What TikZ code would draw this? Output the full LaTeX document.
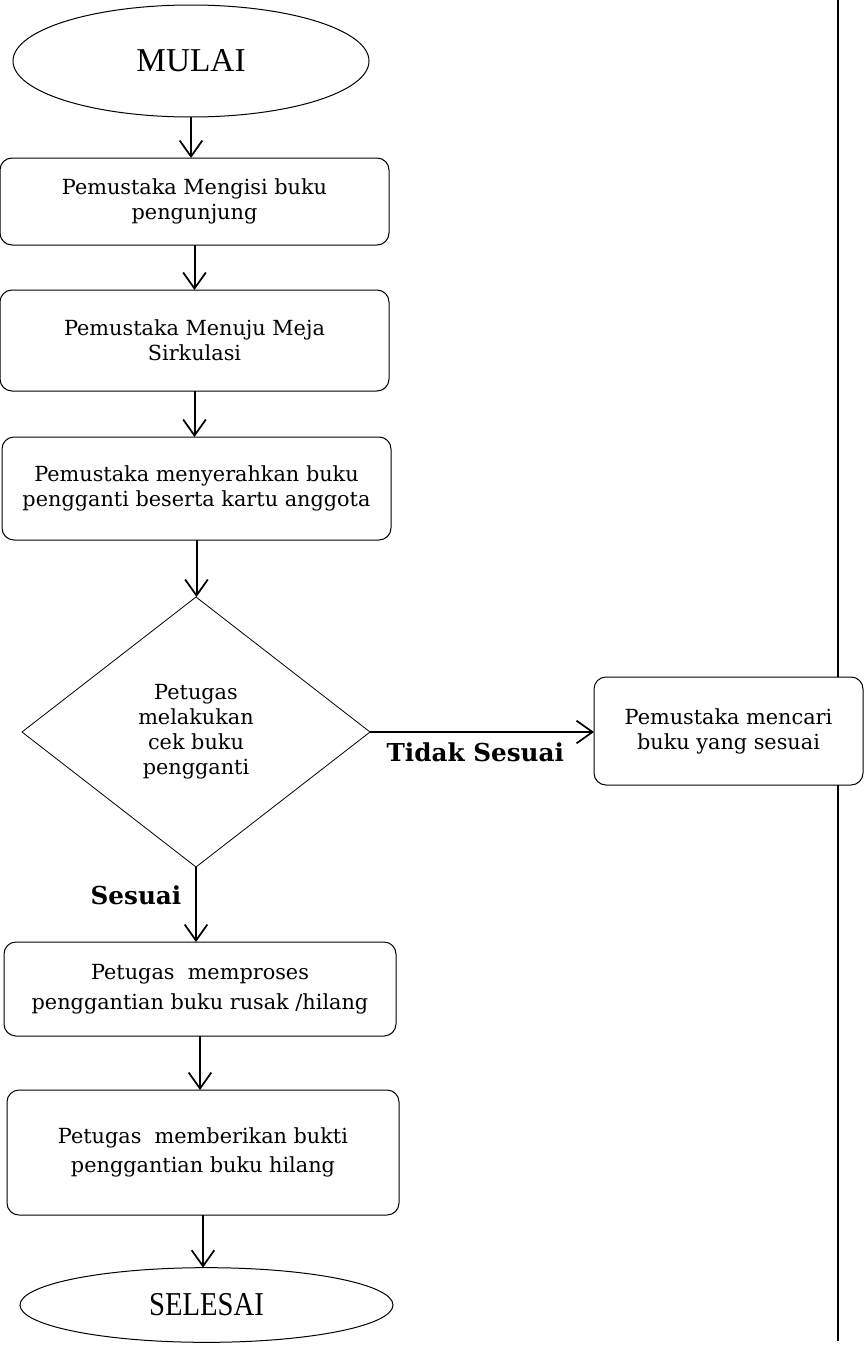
\documentclass[tikz,border=0pt]{standalone}
\usepackage{graphicx}
\usepackage{fontspec}
\setmainfont{DejaVu Serif}
\newfontfamily\termfont{Liberation Serif}
\usetikzlibrary{shapes.geometric,arrows.meta}
\begin{document}
\begin{tikzpicture}[x=0.75pt,y=-0.75pt,
  every node/.style={inner sep=0pt,outer sep=0pt},
  proc/.style={draw,line width=0.75pt,rounded corners=9pt,fill=white,align=center,
    font=\fontsize{15.6}{18.8}\selectfont},
  wide/.style={font=\fontsize{15.6}{22.2}\selectfont},
  term/.style={draw,line width=0.75pt,ellipse,fill=white,
    font=\termfont\fontsize{25}{30}\selectfont},
  decision/.style={draw,line width=0.6pt,diamond,fill=white,align=center,
    font=\fontsize{15.6}{18.8}\selectfont},
  flow/.style={line width=1.5pt,-{Straight Barb[length=12pt,width=17pt,line width=1.3pt]}},
  lbl/.style={font=\bfseries\fontsize{18.5}{21}\selectfont}]
\useasboundingbox (0,0) rectangle (865,1349);

% swimlane divider
\coordinate (ltop) at (838,0);
\coordinate (lbot) at (838,1341);
\draw[line width=1.9pt] (ltop) -- (lbot);

% nodes
\node[term,minimum width=267pt,minimum height=84pt] (start) at (191,61) {MULAI};
\node[proc,minimum width=291.75pt,minimum height=65.25pt] (b1) at (194.5,201.5)
  {Pemustaka Mengisi buku\\pengunjung};
\node[proc,minimum width=291.75pt,minimum height=75.75pt] (b2) at (194.5,340.5)
  {Pemustaka Menuju Meja\\Sirkulasi};
\node[proc,minimum width=291.75pt,minimum height=77.25pt] (b3) at (196.5,488.5)
  {Pemustaka menyerahkan buku\\pengganti beserta kartu anggota};
\node[decision,minimum width=261pt,minimum height=202.5pt] (dec) at (196,732)
  {Petugas\\melakukan\\cek buku\\pengganti};
\node[proc,minimum width=201.75pt,minimum height=81pt] (alt) at (728.5,731)
  {Pemustaka mencari\\buku yang sesuai};
\node[proc,wide,minimum width=294pt,minimum height=70.5pt] (b5) at (200,989)
  {Petugas\ \ memproses\\penggantian buku rusak /hilang};
\node[proc,wide,minimum width=294pt,minimum height=93.75pt] (b6) at (203,1152.5)
  {Petugas\ \ memberikan bukti\\penggantian buku hilang};
\node[term,minimum width=279.75pt,minimum height=56pt] (stop) at (206.5,1305)
  {\scalebox{0.86}[1]{SELESAI}};

% connectors
\draw[flow] (start.south) -- (start.south |- b1.north);
\draw[flow] (b1.south) -- (b1.south |- b2.north);
\draw[flow] (b2.south) -- (b2.south |- b3.north);
\draw[flow] (b3.south) -- (b3.south |- dec.north);
\draw[flow] (dec.east) -- (dec.east -| alt.west)
  node[lbl,pos=0.47,below=8pt] {Tidak Sesuai};
\draw[flow] (dec.south) -- (dec.south |- b5.north)
  node[lbl,pos=0.38,left=11pt] {Sesuai};
\draw[flow] (b5.south) -- (b5.south |- b6.north);
\draw[flow] (b6.south) -- (b6.south |- stop.north);
\end{tikzpicture}
\end{document}
